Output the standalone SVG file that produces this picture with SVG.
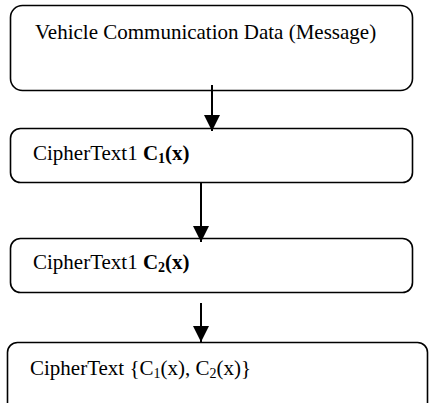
<svg xmlns="http://www.w3.org/2000/svg" width="429" height="403" viewBox="0 0 429 403">
<style>
.box{fill:#fff;stroke:#000;stroke-width:1.6}
.t{font-family:"Liberation Serif","Times New Roman",serif;font-size:21px;fill:#000}
.b{font-weight:bold}
.sub{font-size:14px}
.conn{stroke:#000;stroke-width:2;fill:none;marker-end:url(#ah)}
</style>
<defs>
<marker id="ah" markerUnits="userSpaceOnUse" markerWidth="16" markerHeight="16" viewBox="0 0 16 16" refX="16" refY="8" orient="auto">
<path d="M0,0 L16,8 L0,16 Z" fill="#000"/>
</marker>
</defs>
<g id="n1">
<rect class="box" x="10.5" y="5.5" width="402" height="85" rx="12"/>
<text class="t" x="35" y="39">Vehicle Communication Data (Message)</text>
</g>
<g id="n2">
<rect class="box" x="10.5" y="128.5" width="402" height="54" rx="10"/>
<text class="t" x="33" y="160">CipherText1 <tspan class="b">C</tspan><tspan class="b sub" dy="3">1</tspan><tspan class="b" dy="-3">(x)</tspan></text>
</g>
<g id="n3">
<rect class="box" x="10.5" y="238.5" width="402" height="54" rx="10"/>
<text class="t" x="33" y="269">CipherText1 <tspan class="b">C</tspan><tspan class="b sub" dy="3">2</tspan><tspan class="b" dy="-3">(x)</tspan></text>
</g>
<g id="n4">
<rect class="box" x="7.5" y="342.5" width="420" height="80" rx="10"/>
<text class="t" x="30" y="375">CipherText {C<tspan class="sub" dy="3">1</tspan><tspan dy="-3">(x), C</tspan><tspan class="sub" dy="3">2</tspan><tspan dy="-3">(x)}</tspan></text>
</g>
<g id="connectors">
<line class="conn" x1="212" y1="85" x2="212" y2="131"/>
<line class="conn" x1="201" y1="183" x2="201" y2="242"/>
<line class="conn" x1="201" y1="303" x2="201" y2="342"/>
</g>
</svg>
